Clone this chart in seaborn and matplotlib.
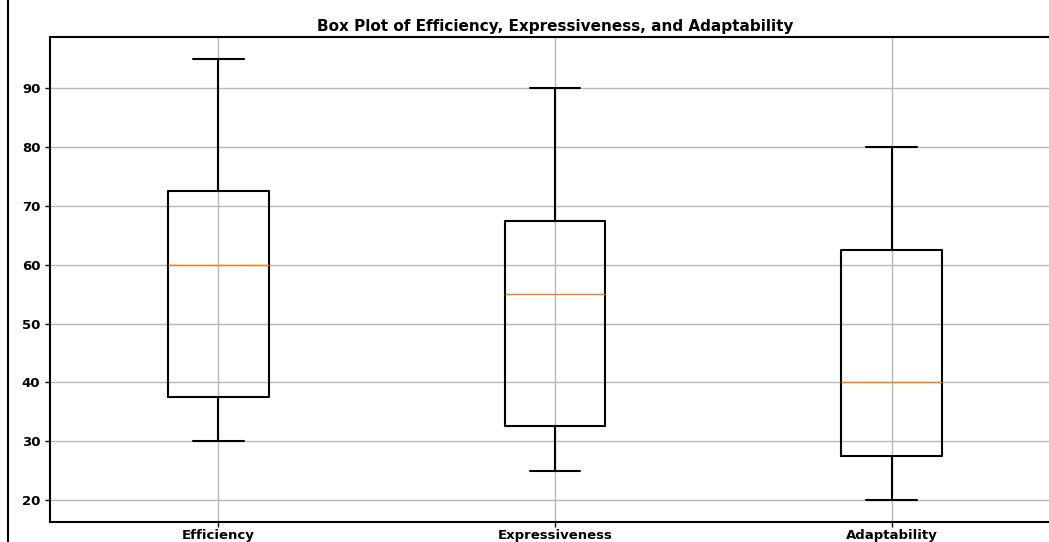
import matplotlib
matplotlib.use("Agg")
import matplotlib.pyplot as plt
import seaborn as sns
import pandas as pd
from matplotlib.lines import Line2D

# values (7 scores per measure)
categories = ["Efficiency", "Expressiveness", "Adaptability"]
efficiency = [30, 35, 40, 60, 70, 75, 95]
expressiveness = [25, 30, 35, 55, 65, 70, 90]
adaptability = [20, 25, 30, 40, 60, 65, 80]
title = "Box Plot of Efficiency, Expressiveness, and Adaptability"

df = pd.DataFrame({
    "measure": [categories[0]] * len(efficiency)
    + [categories[1]] * len(expressiveness)
    + [categories[2]] * len(adaptability),
    "score": efficiency + expressiveness + adaptability,
})

sns.set_style("ticks")
plt.rcParams["font.family"] = ["DejaVu Sans"]

fig = plt.figure(figsize=(10.49, 5.42), dpi=100)
# axes runs off the right edge, like the cropped screenshot
ax = fig.add_axes([50 / 1049, 20 / 542, 1010 / 1049, 485 / 542])

sns.boxplot(data=df, x="measure", y="score", order=categories, ax=ax,
            fill=False, color="black", linewidth=1.5, width=0.3,
            medianprops={"color": "#ff7f0e", "linewidth": 1.0})

ax.grid(True, color="#b8b8b8", linewidth=1.0)
ax.set_axisbelow(True)
ax.set_xlim(-0.5, 2.5)
ax.set_ylim(16.25, 98.75)
ax.set_yticks([20, 30, 40, 50, 60, 70, 80, 90])
ax.set_xlabel("")
ax.set_ylabel("")
ax.tick_params(axis="both", length=3.5, width=1, colors="black")
ax.tick_params(axis="x", pad=1.5)
for lab in ax.get_xticklabels():
    lab.set_fontsize(9.5)
    lab.set_fontweight("bold")
for lab in ax.get_yticklabels():
    lab.set_fontsize(9.5)
    lab.set_fontweight("bold")
for s in ax.spines.values():
    s.set_linewidth(1.5)
    s.set_color("black")
ax.set_title(title, fontsize=11, fontweight="bold", pad=4, color="black")

# dark border line at the far left of the screenshot
fig.add_artist(Line2D([8 / 1049, 8 / 1049], [0, 1], color="black", linewidth=1.5))

fig.savefig("out.png", dpi=100)
